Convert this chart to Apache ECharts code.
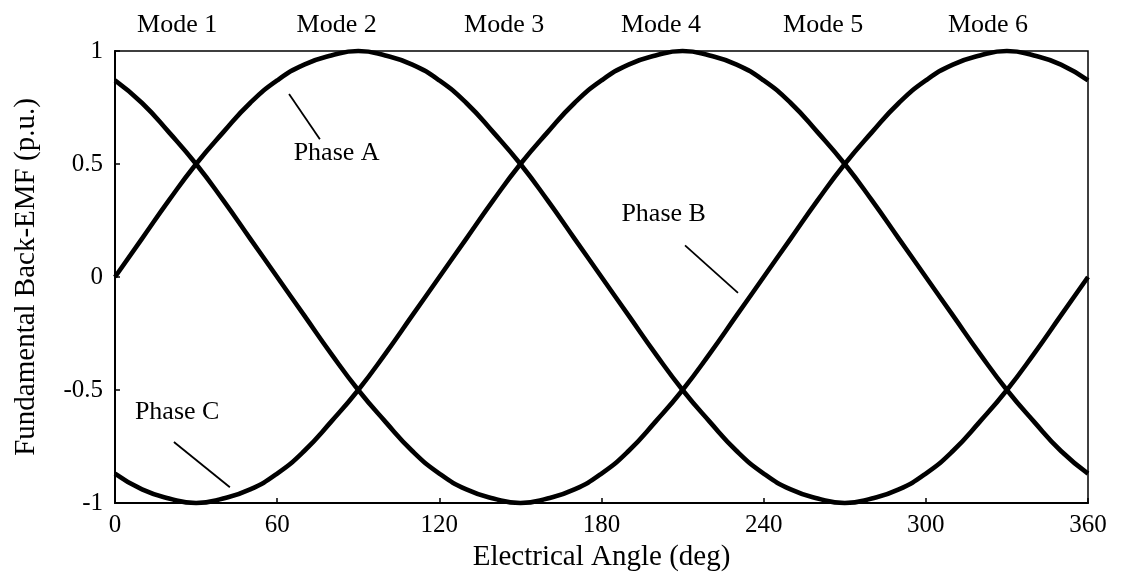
<!DOCTYPE html>
<html>
<head>
<meta charset="utf-8">
<script src="https://cdn.jsdelivr.net/npm/echarts@6/dist/echarts.min.js"></script>
<style>
  html, body { margin: 0; padding: 0; background: #fff; }
  #chart { width: 1122px; height: 577px; }
</style>
</head>
<body>
<div id="chart"></div>
<script>
// Electrical angle samples (deg)
const angles = [0, 10, 20, 30, 40, 50, 60, 70, 80, 90, 100, 110, 120, 130, 140, 150, 160, 170, 180,
                190, 200, 210, 220, 230, 240, 250, 260, 270, 280, 290, 300, 310, 320, 330, 340, 350, 360];

// Fundamental back-EMF per phase (p.u.)
const phaseA = [0, 0.17, 0.34, 0.5, 0.64, 0.77, 0.87, 0.94, 0.98, 1, 0.98, 0.94, 0.87, 0.77, 0.64, 0.5, 0.34, 0.17, 0,
                -0.17, -0.34, -0.5, -0.64, -0.77, -0.87, -0.94, -0.98, -1, -0.98, -0.94, -0.87, -0.77, -0.64, -0.5, -0.34, -0.17, 0];
const phaseB = [0.87, 0.77, 0.64, 0.5, 0.34, 0.17, 0, -0.17, -0.34, -0.5, -0.64, -0.77, -0.87, -0.94, -0.98, -1, -0.98, -0.94, -0.87,
                -0.77, -0.64, -0.5, -0.34, -0.17, 0, 0.17, 0.34, 0.5, 0.64, 0.77, 0.87, 0.94, 0.98, 1, 0.98, 0.94, 0.87];
const phaseC = [-0.87, -0.94, -0.98, -1, -0.98, -0.94, -0.87, -0.77, -0.64, -0.5, -0.34, -0.17, 0, 0.17, 0.34, 0.5, 0.64, 0.77, 0.87,
                0.94, 0.98, 1, 0.98, 0.94, 0.87, 0.77, 0.64, 0.5, 0.34, 0.17, 0, -0.17, -0.34, -0.5, -0.64, -0.77, -0.87];

// Axis ticks
const xTicks = [0, 60, 120, 180, 240, 300, 360];
const yTicks = [-1, -0.5, 0, 0.5, 1];

// Conduction mode labels along the top, anchored at an angle
const modeLabels = ['Mode 1', 'Mode 2', 'Mode 3', 'Mode 4', 'Mode 5', 'Mode 6'];
const modeAngles = [23, 82, 144, 202, 262, 323];

// Phase callouts: text anchor and leader line, in (angle, value)
const phaseNames = ['Phase A', 'Phase B', 'Phase C'];
const phaseTextAt = [[82, 0.55], [203, 0.28], [23, -0.60]];
const phaseLeader = [
  [[64.4, 0.81], [75.8, 0.61]],
  [[210.9, 0.14], [230.5, -0.07]],
  [[21.8, -0.73], [42.5, -0.93]]
];

const FONT = "'Liberation Serif', 'Times New Roman', serif";

const chart = echarts.init(document.getElementById('chart'), null, { renderer: 'canvas' });

function toXY(a) { return angles.map((x, i) => [x, a[i]]); }

const curveStyle = { color: '#000', width: 4.6 };

chart.setOption({
  animation: false,
  backgroundColor: '#fff',
  grid: {
    left: 115, right: 34, top: 51, bottom: 74,
    show: true, borderColor: '#000', borderWidth: 1.5, backgroundColor: 'transparent'
  },
  xAxis: {
    type: 'value', min: xTicks[0], max: xTicks[xTicks.length - 1], interval: 60,
    name: 'Electrical Angle (deg)', nameLocation: 'middle', nameGap: 38,
    nameTextStyle: { fontFamily: FONT, fontSize: 29, color: '#000' },
    axisLine: { show: true, onZero: false, lineStyle: { color: '#000', width: 2 } },
    axisTick: { show: true, inside: true, length: 5, lineStyle: { color: '#000', width: 1.5 } },
    axisLabel: { fontFamily: FONT, fontSize: 25, color: '#000', margin: 10 },
    splitLine: { show: false }
  },
  yAxis: {
    type: 'value', min: yTicks[0], max: yTicks[yTicks.length - 1], interval: 0.5,
    name: 'Fundamental Back-EMF (p.u.)', nameLocation: 'middle', nameGap: 74,
    nameTextStyle: { fontFamily: FONT, fontSize: 29, color: '#000' },
    axisLine: { show: true, onZero: false, lineStyle: { color: '#000', width: 2 } },
    axisTick: { show: true, inside: true, length: 5, lineStyle: { color: '#000', width: 1.5 } },
    axisLabel: { fontFamily: FONT, fontSize: 25, color: '#000', margin: 12 },
    splitLine: { show: false }
  },
  series: [
    { name: 'Phase A', type: 'line', data: toXY(phaseA), smooth: true, showSymbol: false, clip: false, lineStyle: curveStyle },
    { name: 'Phase B', type: 'line', data: toXY(phaseB), smooth: true, showSymbol: false, clip: false, lineStyle: curveStyle },
    { name: 'Phase C', type: 'line', data: toXY(phaseC), smooth: true, showSymbol: false, clip: false, lineStyle: curveStyle }
  ]
});

// Annotations placed through the axes' own scales
function px(pt) { return chart.convertToPixel({ gridIndex: 0 }, pt); }
const graphics = [];
const topY = px([0, 1])[1];
modeLabels.forEach((t, i) => {
  const p = px([modeAngles[i], 1]);
  graphics.push({
    type: 'text', x: p[0], y: topY - 26,
    style: { text: t, font: `26px ${FONT}`, fill: '#000', textAlign: 'center', textVerticalAlign: 'middle' }
  });
});
phaseNames.forEach((t, i) => {
  const p = px(phaseTextAt[i]);
  graphics.push({
    type: 'text', x: p[0], y: p[1],
    style: { text: t, font: `26px ${FONT}`, fill: '#000', textAlign: 'center', textVerticalAlign: 'middle' }
  });
  const a = px(phaseLeader[i][0]), b = px(phaseLeader[i][1]);
  graphics.push({
    type: 'line', shape: { x1: a[0], y1: a[1], x2: b[0], y2: b[1] },
    style: { stroke: '#000', lineWidth: 1.8 }
  });
});
chart.setOption({ graphic: graphics });
</script>
</body>
</html>
